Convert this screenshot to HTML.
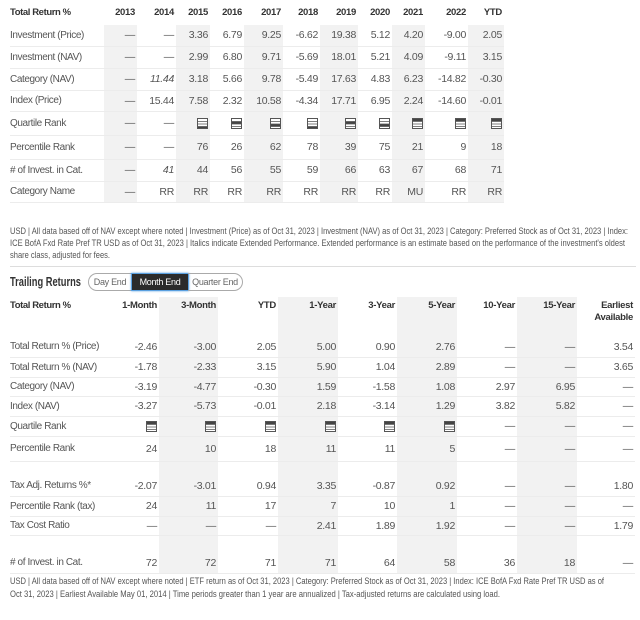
<!DOCTYPE html>
<html><head><meta charset="utf-8"><style>
body{margin:0;width:640px;height:620px;background:#fff;font-family:"Liberation Sans",sans-serif;font-size:10.5px;color:#555;position:relative;overflow:hidden}
table{border-collapse:collapse;position:absolute;table-layout:fixed}
td{padding:0 2px 0 0;text-align:right;white-space:nowrap;border-bottom:1px solid #ececec;vertical-align:middle;letter-spacing:-0.3px;overflow:hidden}
td:first-child{text-align:left;padding-left:0;color:#555;overflow:visible;font-size:10px;letter-spacing:-0.4px}
tr.h td{font-weight:bold;color:#333;font-size:9.5px;border-bottom:none}
.s{background:#f2f2f2}
i{font-style:italic}
.q{display:inline-block;width:11px;height:11px;vertical-align:middle}
svg.t{position:absolute;left:0;overflow:hidden}
svg.t text{font-family:"Liberation Sans",sans-serif;font-size:9px;fill:#555}
.btn{position:absolute;top:273px;height:16px;line-height:16px;font-size:9px;border:1px solid #aaa;color:#666;text-align:center;white-space:nowrap;letter-spacing:-0.3px;overflow:hidden}
tr.sp td{border-bottom:none}
</style></head><body>
<svg width="0" height="0" style="position:absolute"><defs>
<symbol id="q1" viewBox="0 0 11 11"><rect x=".5" y=".5" width="10" height="10" fill="#fff" stroke="#555"/><rect x="1" y="1" width="9" height="2.2" fill="#444"/><path d="M1 3.5H10M1 6H10M1 8.5H10" stroke="#555" stroke-width=".8"/></symbol>
<symbol id="q2" viewBox="0 0 11 11"><rect x=".5" y=".5" width="10" height="10" fill="#fff" stroke="#555"/><rect x="1" y="3.5" width="9" height="2.5" fill="#444"/><path d="M1 3.5H10M1 6H10M1 8.5H10" stroke="#555" stroke-width=".8"/></symbol>
<symbol id="q3" viewBox="0 0 11 11"><rect x=".5" y=".5" width="10" height="10" fill="#fff" stroke="#555"/><rect x="1" y="6" width="9" height="2.5" fill="#444"/><path d="M1 3.5H10M1 6H10M1 8.5H10" stroke="#555" stroke-width=".8"/></symbol>
<symbol id="q4" viewBox="0 0 11 11"><rect x=".5" y=".5" width="10" height="10" fill="#fff" stroke="#555"/><rect x="1" y="8.5" width="9" height="1.5" fill="#444"/><path d="M1 3.5H10M1 6H10M1 8.5H10" stroke="#555" stroke-width=".8"/></symbol>
</defs></svg>

<table style="left:10px;top:0;width:494px">
<colgroup><col style="width:94px"><col style="width:33px"><col style="width:39px"><col style="width:34px"><col style="width:34px"><col style="width:39px"><col style="width:37px"><col style="width:38px"><col style="width:34px"><col style="width:33px"><col style="width:43px"><col style="width:36px"></colgroup>
<tr class="h" style="height:25px"><td>Total Return %</td><td>2013</td><td>2014</td><td>2015</td><td>2016</td><td>2017</td><td>2018</td><td>2019</td><td>2020</td><td>2021</td><td>2022</td><td>YTD</td></tr>
<tr style="height:21px"><td>Investment (Price)</td><td class="s">—</td><td>—</td><td class="s">3.36</td><td>6.79</td><td class="s">9.25</td><td>-6.62</td><td class="s">19.38</td><td>5.12</td><td class="s">4.20</td><td>-9.00</td><td class="s">2.05</td></tr>
<tr style="height:22px"><td>Investment (NAV)</td><td class="s">—</td><td>—</td><td class="s">2.99</td><td>6.80</td><td class="s">9.71</td><td>-5.69</td><td class="s">18.01</td><td>5.21</td><td class="s">4.09</td><td>-9.11</td><td class="s">3.15</td></tr>
<tr style="height:22px"><td>Category (NAV)</td><td class="s">—</td><td><i>11.44</i></td><td class="s">3.18</td><td>5.66</td><td class="s">9.78</td><td>-5.49</td><td class="s">17.63</td><td>4.83</td><td class="s">6.23</td><td>-14.82</td><td class="s">-0.30</td></tr>
<tr style="height:21px"><td>Index (Price)</td><td class="s">—</td><td>15.44</td><td class="s">7.58</td><td>2.32</td><td class="s">10.58</td><td>-4.34</td><td class="s">17.71</td><td>6.95</td><td class="s">2.24</td><td>-14.60</td><td class="s">-0.01</td></tr>
<tr style="height:24px"><td>Quartile Rank</td><td class="s">—</td><td>—</td><td class="s"><svg class="q"><use href="#q4"/></svg></td><td><svg class="q"><use href="#q2"/></svg></td><td class="s"><svg class="q"><use href="#q3"/></svg></td><td><svg class="q"><use href="#q4"/></svg></td><td class="s"><svg class="q"><use href="#q2"/></svg></td><td><svg class="q"><use href="#q3"/></svg></td><td class="s"><svg class="q"><use href="#q1"/></svg></td><td><svg class="q"><use href="#q1"/></svg></td><td class="s"><svg class="q"><use href="#q1"/></svg></td></tr>
<tr style="height:24px"><td>Percentile Rank</td><td class="s">—</td><td>—</td><td class="s">76</td><td>26</td><td class="s">62</td><td>78</td><td class="s">39</td><td>75</td><td class="s">21</td><td>9</td><td class="s">18</td></tr>
<tr style="height:22px"><td># of Invest. in Cat.</td><td class="s">—</td><td><i>41</i></td><td class="s">44</td><td>56</td><td class="s">55</td><td>59</td><td class="s">66</td><td>63</td><td class="s">67</td><td>68</td><td class="s">71</td></tr>
<tr style="height:21px"><td>Category Name</td><td class="s">—</td><td>RR</td><td class="s">RR</td><td>RR</td><td class="s">RR</td><td>RR</td><td class="s">RR</td><td>RR</td><td class="s">MU</td><td>RR</td><td class="s">RR</td></tr>
</table>

<svg class="t" style="top:0" width="640" height="620">
<text x="10" y="234" textLength="618" lengthAdjust="spacingAndGlyphs">USD | All data based off of NAV except where noted | Investment (Price) as of Oct 31, 2023 | Investment (NAV) as of Oct 31, 2023 | Category: Preferred Stock as of Oct 31, 2023 | Index:</text>
<text x="10" y="246" textLength="615" lengthAdjust="spacingAndGlyphs">ICE BofA Fxd Rate Pref TR USD as of Oct 31, 2023 | Italics indicate Extended Performance. Extended performance is an estimate based on the performance of the investment's oldest</text>
<text x="10" y="258" textLength="100" lengthAdjust="spacingAndGlyphs">share class, adjusted for fees.</text>
<text x="10" y="286" textLength="71" lengthAdjust="spacingAndGlyphs" style="font-size:13px;font-weight:bold;fill:#333">Trailing Returns</text>
<text x="10" y="584" textLength="594" lengthAdjust="spacingAndGlyphs">USD | All data based off of NAV except where noted | ETF return as of Oct 31, 2023 | Category: Preferred Stock as of Oct 31, 2023 | Index: ICE BofA Fxd Rate Pref TR USD as of</text>
<text x="10" y="597" textLength="490" lengthAdjust="spacingAndGlyphs">Oct 31, 2023 |  Earliest Available May 01, 2014 |  Time periods greater than 1 year are annualized | Tax-adjusted returns are calculated using load.</text>
</svg>
<div style="position:absolute;left:10px;top:266px;width:626px;border-top:1px solid #ddd"></div>
<div class="btn" style="left:88px;width:42px;border-radius:9px 0 0 9px;border-right:none">Day End</div>
<div class="btn" style="left:131px;width:56px;background:#2b2b2b;color:#fff;border-color:#5aa0e0;box-shadow:0 0 2px #5aa0e0">Month End</div>
<div class="btn" style="left:188px;width:54px;border-radius:0 9px 9px 0;border-left:none">Quarter End</div>

<table style="left:10px;top:297px;width:625px">
<colgroup><col style="width:89px"><col style="width:60px"><col style="width:59px"><col style="width:60px"><col style="width:60px"><col style="width:59px"><col style="width:60px"><col style="width:60px"><col style="width:60px"><col style="width:58px"></colgroup>
<tr class="h" style="height:40px"><td style="vertical-align:top;padding-top:3px">Total Return %</td><td style="vertical-align:top;padding-top:3px">1-Month</td><td class="s" style="vertical-align:top;padding-top:3px">3-Month</td><td style="vertical-align:top;padding-top:3px">YTD</td><td class="s" style="vertical-align:top;padding-top:3px">1-Year</td><td style="vertical-align:top;padding-top:3px">3-Year</td><td class="s" style="vertical-align:top;padding-top:3px">5-Year</td><td style="vertical-align:top;padding-top:3px">10-Year</td><td class="s" style="vertical-align:top;padding-top:3px">15-Year</td><td style="vertical-align:top;padding-top:3px;line-height:12px">Earliest<br>Available</td></tr>
<tr style="height:20px"><td>Total Return % (Price)</td><td>-2.46</td><td class="s">-3.00</td><td>2.05</td><td class="s">5.00</td><td>0.90</td><td class="s">2.76</td><td>—</td><td class="s">—</td><td>3.54</td></tr>
<tr style="height:20px"><td>Total Return % (NAV)</td><td>-1.78</td><td class="s">-2.33</td><td>3.15</td><td class="s">5.90</td><td>1.04</td><td class="s">2.89</td><td>—</td><td class="s">—</td><td>3.65</td></tr>
<tr style="height:19px"><td>Category (NAV)</td><td>-3.19</td><td class="s">-4.77</td><td>-0.30</td><td class="s">1.59</td><td>-1.58</td><td class="s">1.08</td><td>2.97</td><td class="s">6.95</td><td>—</td></tr>
<tr style="height:20px"><td>Index (NAV)</td><td>-3.27</td><td class="s">-5.73</td><td>-0.01</td><td class="s">2.18</td><td>-3.14</td><td class="s">1.29</td><td>3.82</td><td class="s">5.82</td><td>—</td></tr>
<tr style="height:20px"><td>Quartile Rank</td><td><svg class="q"><use href="#q1"/></svg></td><td class="s"><svg class="q"><use href="#q1"/></svg></td><td><svg class="q"><use href="#q1"/></svg></td><td class="s"><svg class="q"><use href="#q1"/></svg></td><td><svg class="q"><use href="#q1"/></svg></td><td class="s"><svg class="q"><use href="#q1"/></svg></td><td>—</td><td class="s">—</td><td>—</td></tr>
<tr style="height:25px"><td>Percentile Rank</td><td>24</td><td class="s">10</td><td>18</td><td class="s">11</td><td>11</td><td class="s">5</td><td>—</td><td class="s">—</td><td>—</td></tr>
<tr class="sp" style="height:15px"><td></td><td></td><td class="s"></td><td></td><td class="s"></td><td></td><td class="s"></td><td></td><td class="s"></td><td></td></tr>
<tr style="height:20px"><td>Tax Adj. Returns %*</td><td>-2.07</td><td class="s">-3.01</td><td>0.94</td><td class="s">3.35</td><td>-0.87</td><td class="s">0.92</td><td>—</td><td class="s">—</td><td>1.80</td></tr>
<tr style="height:20px"><td>Percentile Rank (tax)</td><td>24</td><td class="s">11</td><td>17</td><td class="s">7</td><td>10</td><td class="s">1</td><td>—</td><td class="s">—</td><td>—</td></tr>
<tr style="height:19px"><td>Tax Cost Ratio</td><td>—</td><td class="s">—</td><td>—</td><td class="s">2.41</td><td>1.89</td><td class="s">1.92</td><td>—</td><td class="s">—</td><td>1.79</td></tr>
<tr class="sp" style="height:18px"><td></td><td></td><td class="s"></td><td></td><td class="s"></td><td></td><td class="s"></td><td></td><td class="s"></td><td></td></tr>
<tr style="height:20px"><td># of Invest. in Cat.</td><td>72</td><td class="s">72</td><td>71</td><td class="s">71</td><td>64</td><td class="s">58</td><td>36</td><td class="s">18</td><td>—</td></tr>
</table>
</body></html>
